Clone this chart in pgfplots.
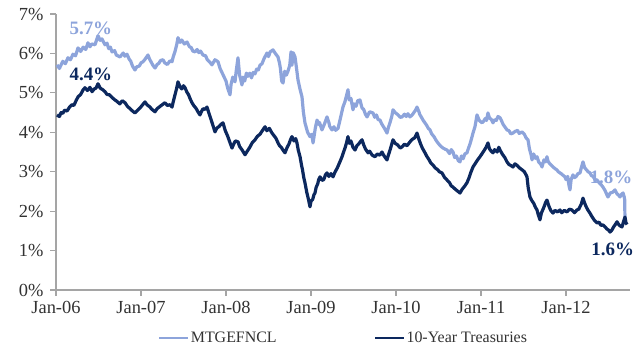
\documentclass[border=0pt]{standalone}
\usepackage{pgfplots}
\pgfplotsset{compat=1.18}
\usepackage{fontspec}
\setmainfont{Liberation Serif}

\definecolor{mbsblue}{RGB}{141,164,219}
\definecolor{tsynavy}{RGB}{12,40,94}
\definecolor{axisgrey}{RGB}{165,165,165}
\definecolor{labelgrey}{RGB}{50,50,50}

\begin{document}
\begin{tikzpicture}
\useasboundingbox (-56bp,-61bp) rectangle (580bp,290bp);
\begin{axis}[
  scale only axis,
  width=574bp, height=276bp,
  xmin=2006, xmax=2012.753,
  ymin=0, ymax=7,
  axis x line=bottom, axis y line=left,
  axis line style={-, draw=axisgrey, line width=1.3bp},
  xtick={2006,2007,2008,2009,2010,2011,2012},
  xticklabels={Jan-06,Jan-07,Jan-08,Jan-09,Jan-10,Jan-11,Jan-12},
  ytick={0,1,2,3,4,5,6,7},
  yticklabel={\pgfmathprintnumber{\tick}\%},
  /pgf/number format/assume math mode=true,
  tick style={draw=axisgrey, line width=1.2bp},
  tick align=outside,
  major tick length=6bp,
  ticklabel style={font=\fontsize{18.5}{20}\selectfont, text=labelgrey},
  xticklabel style={yshift=-2bp},
  yticklabel style={xshift=-3bp},
  legend columns=2,
  legend style={draw=none, fill=none, at={(0.5,-0.174)}, anchor=center,
    font=\fontsize{16}{17}\selectfont, text=labelgrey,
    inner sep=0pt, nodes={inner sep=1pt},
    /tikz/column 2/.style={column sep=96bp}},
  legend image code/.code={\draw[line width=2.8bp] (0bp,0bp) -- (29bp,0bp);},
  clip=false,
]
% 30-year agency MBS current coupon yield
\addplot[mbsblue, line width=3.2bp, line join=round] coordinates {
(2006.012,5.71) (2006.04,5.62) (2006.08,5.80) (2006.11,5.74) (2006.141,5.89)
(2006.17,5.84) (2006.20,5.98) (2006.23,5.94) (2006.259,6.14) (2006.29,6.05)
(2006.32,6.16) (2006.35,6.10) (2006.376,6.27) (2006.40,6.17) (2006.42,6.24)
(2006.459,6.22) (2006.494,6.45) (2006.52,6.33) (2006.54,6.37) (2006.576,6.22)
(2006.60,6.26) (2006.62,6.12) (2006.64,6.16) (2006.659,6.04) (2006.69,6.07)
(2006.71,5.96) (2006.753,5.91) (2006.79,6.01) (2006.81,5.93) (2006.835,5.98)
(2006.86,5.86) (2006.88,5.80) (2006.90,5.68) (2006.929,5.58) (2006.95,5.66)
(2006.98,5.68) (2007.00,5.76) (2007.024,5.79) (2007.05,5.86) (2007.082,5.96)
(2007.10,5.86) (2007.12,5.78) (2007.14,5.70) (2007.165,5.63) (2007.19,5.72)
(2007.21,5.75) (2007.23,5.82) (2007.259,5.84) (2007.28,5.76) (2007.31,5.72)
(2007.34,5.81) (2007.365,5.79) (2007.38,5.92) (2007.40,6.05) (2007.42,6.22)
(2007.435,6.40) (2007.46,6.28) (2007.48,6.34) (2007.51,6.24) (2007.541,6.29)
(2007.57,6.17) (2007.59,6.15) (2007.61,6.06) (2007.635,6.04) (2007.66,6.10)
(2007.68,6.02) (2007.70,6.06) (2007.729,5.96) (2007.76,5.94) (2007.78,5.84)
(2007.81,5.78) (2007.835,5.71) (2007.87,5.84) (2007.906,5.79) (2007.93,5.62)
(2007.965,5.46) (2008.00,5.30) (2008.02,5.12) (2008.047,4.95) (2008.06,5.22)
(2008.08,5.40) (2008.106,5.28) (2008.12,5.55) (2008.141,5.89) (2008.16,5.45)
(2008.188,5.20) (2008.20,5.40) (2008.22,5.30) (2008.24,5.50) (2008.259,5.42)
(2008.28,5.50) (2008.30,5.38) (2008.32,5.52) (2008.341,5.48) (2008.36,5.60)
(2008.38,5.58) (2008.40,5.70) (2008.424,5.74) (2008.45,5.88) (2008.482,6.01)
(2008.50,5.92) (2008.52,6.04) (2008.553,6.09) (2008.58,6.00) (2008.612,5.91)
(2008.63,5.75) (2008.64,5.62) (2008.655,5.30) (2008.671,5.25) (2008.69,5.55)
(2008.71,5.45) (2008.729,5.55) (2008.75,5.70) (2008.765,6.04) (2008.776,5.70)
(2008.79,6.02) (2008.812,5.91) (2008.83,5.62) (2008.847,5.33) (2008.87,5.10)
(2008.894,4.90) (2008.91,4.52) (2008.929,4.24) (2008.96,4.00) (2008.988,3.89)
(2009.01,3.95) (2009.024,3.73) (2009.04,3.95) (2009.05,4.10) (2009.071,4.31)
(2009.09,4.20) (2009.10,4.25) (2009.129,4.06) (2009.16,4.22) (2009.188,4.39)
(2009.21,4.25) (2009.22,4.15) (2009.247,4.06) (2009.27,4.14) (2009.29,4.05)
(2009.318,4.10) (2009.34,4.30) (2009.376,4.64) (2009.40,4.78) (2009.42,4.95)
(2009.435,5.08) (2009.45,4.82) (2009.47,4.86) (2009.494,4.57) (2009.51,4.72)
(2009.53,4.66) (2009.55,4.80) (2009.576,4.82) (2009.60,4.62) (2009.62,4.58)
(2009.64,4.46) (2009.659,4.39) (2009.69,4.52) (2009.729,4.49) (2009.75,4.38)
(2009.77,4.44) (2009.79,4.32) (2009.812,4.31) (2009.83,4.22) (2009.85,4.15)
(2009.87,4.08) (2009.894,3.98) (2009.91,4.12) (2009.93,4.25) (2009.95,4.40)
(2009.965,4.57) (2009.99,4.50) (2010.02,4.45) (2010.05,4.38) (2010.071,4.39)
(2010.10,4.46) (2010.12,4.40) (2010.14,4.47) (2010.165,4.39) (2010.19,4.44)
(2010.21,4.50) (2010.23,4.56) (2010.247,4.64) (2010.27,4.52) (2010.28,4.45)
(2010.30,4.38) (2010.318,4.31) (2010.34,4.24) (2010.36,4.18) (2010.38,4.10)
(2010.400,4.06) (2010.42,3.96) (2010.45,3.88) (2010.47,3.80) (2010.494,3.73)
(2010.52,3.66) (2010.553,3.60) (2010.58,3.57) (2010.600,3.55) (2010.63,3.46)
(2010.65,3.56) (2010.671,3.50) (2010.69,3.36) (2010.71,3.40) (2010.733,3.28)
(2010.753,3.25) (2010.77,3.40) (2010.79,3.33) (2010.81,3.45) (2010.835,3.48)
(2010.85,3.58) (2010.87,3.70) (2010.89,3.85) (2010.906,3.98) (2010.93,4.15)
(2010.953,4.44) (2010.98,4.30) (2011.012,4.24) (2011.03,4.28) (2011.05,4.35)
(2011.065,4.30) (2011.082,4.49) (2011.10,4.36) (2011.12,4.33) (2011.141,4.24)
(2011.16,4.32) (2011.18,4.30) (2011.20,4.40) (2011.224,4.37) (2011.24,4.30)
(2011.26,4.20) (2011.28,4.14) (2011.306,4.06) (2011.33,4.04) (2011.35,3.96)
(2011.376,3.98) (2011.40,4.02) (2011.43,4.05) (2011.45,3.97) (2011.482,4.01)
(2011.51,3.95) (2011.53,3.86) (2011.553,3.81) (2011.57,3.58) (2011.59,3.42)
(2011.600,3.30) (2011.62,3.45) (2011.64,3.34) (2011.659,3.38) (2011.68,3.24)
(2011.70,3.20) (2011.718,3.12) (2011.74,3.30) (2011.76,3.25) (2011.776,3.38)
(2011.79,3.26) (2011.81,3.20) (2011.83,3.16) (2011.847,3.12) (2011.87,3.08)
(2011.89,3.05) (2011.91,3.00) (2011.929,2.97) (2011.95,2.94) (2011.97,2.90)
(2011.988,2.87) (2012.00,2.80) (2012.02,2.88) (2012.035,2.65) (2012.047,2.54)
(2012.06,2.80) (2012.082,2.92) (2012.10,2.85) (2012.12,2.88) (2012.14,2.95)
(2012.165,2.97) (2012.18,3.10) (2012.200,3.25) (2012.22,3.10) (2012.24,3.05)
(2012.26,3.00) (2012.282,2.97) (2012.30,2.90) (2012.32,2.88) (2012.34,2.80)
(2012.365,2.79) (2012.39,2.72) (2012.41,2.68) (2012.435,2.61) (2012.46,2.52)
(2012.48,2.42) (2012.494,2.36) (2012.52,2.46) (2012.55,2.48) (2012.576,2.54)
(2012.60,2.44) (2012.62,2.40) (2012.635,2.36) (2012.65,2.42) (2012.671,2.46)
(2012.685,2.36) (2012.690,2.30) (2012.694,1.80)
};
\addlegendentry{MTGEFNCL}
% 10-year Treasury yield
\addplot[tsynavy, line width=3.2bp, line join=round] coordinates {
(2006.012,4.44) (2006.04,4.40) (2006.06,4.50) (2006.08,4.48) (2006.10,4.56)
(2006.13,4.54) (2006.16,4.64) (2006.188,4.70) (2006.21,4.68) (2006.24,4.82)
(2006.26,4.90) (2006.29,4.96) (2006.32,5.08) (2006.341,5.13) (2006.37,5.06)
(2006.40,5.14) (2006.424,5.03) (2006.45,5.10) (2006.47,5.12) (2006.494,5.23)
(2006.52,5.12) (2006.55,5.08) (2006.576,5.03) (2006.60,4.96) (2006.63,4.95)
(2006.66,4.88) (2006.694,4.82) (2006.72,4.78) (2006.75,4.72) (2006.78,4.80)
(2006.812,4.75) (2006.84,4.66) (2006.87,4.60) (2006.90,4.54) (2006.929,4.49)
(2006.96,4.56) (2006.99,4.62) (2007.02,4.70) (2007.047,4.77) (2007.07,4.70)
(2007.10,4.65) (2007.13,4.58) (2007.165,4.52) (2007.19,4.60) (2007.22,4.65)
(2007.25,4.70) (2007.282,4.75) (2007.31,4.68) (2007.34,4.70) (2007.365,4.64)
(2007.38,4.78) (2007.40,4.95) (2007.42,5.12) (2007.435,5.28) (2007.46,5.15)
(2007.48,5.10) (2007.50,5.18) (2007.518,5.13) (2007.54,5.02) (2007.56,4.95)
(2007.58,4.84) (2007.600,4.75) (2007.62,4.68) (2007.65,4.60) (2007.67,4.52)
(2007.694,4.44) (2007.71,4.52) (2007.73,4.60) (2007.75,4.58) (2007.776,4.64)
(2007.80,4.48) (2007.82,4.35) (2007.85,4.15) (2007.871,4.01) (2007.89,4.10)
(2007.92,4.15) (2007.94,4.20) (2007.965,4.24) (2007.99,4.05) (2008.02,3.90)
(2008.05,3.72) (2008.071,3.60) (2008.09,3.70) (2008.11,3.78) (2008.141,3.76)
(2008.16,3.64) (2008.19,3.55) (2008.224,3.43) (2008.25,3.52) (2008.28,3.62)
(2008.31,3.74) (2008.341,3.81) (2008.37,3.90) (2008.40,3.95) (2008.43,4.05)
(2008.459,4.14) (2008.48,4.04) (2008.51,4.10) (2008.541,3.98) (2008.57,3.90)
(2008.59,3.84) (2008.612,3.73) (2008.63,3.66) (2008.65,3.62) (2008.67,3.55)
(2008.694,3.48) (2008.72,3.62) (2008.74,3.70) (2008.76,3.82) (2008.776,3.89)
(2008.80,3.78) (2008.82,3.84) (2008.835,3.73) (2008.85,3.55) (2008.871,3.38)
(2008.89,3.15) (2008.90,3.05) (2008.915,2.85) (2008.929,2.72) (2008.95,2.48)
(2008.97,2.30) (2008.988,2.11) (2009.00,2.25) (2009.02,2.30) (2009.035,2.42)
(2009.047,2.46) (2009.06,2.60) (2009.08,2.70) (2009.09,2.80) (2009.106,2.87)
(2009.13,2.78) (2009.15,2.80) (2009.17,2.92) (2009.188,2.97) (2009.21,2.88)
(2009.235,2.95) (2009.259,2.87) (2009.28,2.98) (2009.31,3.10) (2009.34,3.25)
(2009.365,3.38) (2009.38,3.48) (2009.40,3.60) (2009.42,3.75) (2009.435,3.89)
(2009.45,3.72) (2009.47,3.78) (2009.494,3.62) (2009.518,3.55) (2009.54,3.66)
(2009.56,3.70) (2009.58,3.76) (2009.600,3.81) (2009.62,3.68) (2009.64,3.58)
(2009.671,3.48) (2009.69,3.52) (2009.72,3.42) (2009.753,3.38) (2009.78,3.45)
(2009.81,3.42) (2009.835,3.50) (2009.86,3.40) (2009.894,3.30) (2009.91,3.42)
(2009.93,3.55) (2009.95,3.70) (2009.965,3.81) (2009.99,3.72) (2010.02,3.68)
(2010.05,3.60) (2010.071,3.63) (2010.10,3.70) (2010.13,3.66) (2010.165,3.76)
(2010.19,3.82) (2010.22,3.86) (2010.247,3.98) (2010.27,3.82) (2010.29,3.70)
(2010.31,3.60) (2010.341,3.48) (2010.36,3.40) (2010.39,3.30) (2010.41,3.22)
(2010.435,3.17) (2010.46,3.10) (2010.49,3.05) (2010.51,3.00) (2010.541,2.97)
(2010.57,2.86) (2010.600,2.79) (2010.63,2.72) (2010.65,2.64) (2010.671,2.61)
(2010.70,2.55) (2010.73,2.50) (2010.753,2.46) (2010.78,2.56) (2010.81,2.64)
(2010.835,2.72) (2010.86,2.85) (2010.88,2.98) (2010.906,3.12) (2010.93,3.20)
(2010.96,3.30) (2010.988,3.38) (2011.01,3.45) (2011.04,3.55) (2011.06,3.62)
(2011.082,3.73) (2011.10,3.58) (2011.12,3.52) (2011.141,3.48) (2011.16,3.56)
(2011.19,3.50) (2011.21,3.62) (2011.224,3.55) (2011.25,3.45) (2011.28,3.36)
(2011.306,3.25) (2011.33,3.18) (2011.35,3.16) (2011.376,3.12) (2011.40,3.20)
(2011.43,3.15) (2011.45,3.10) (2011.482,3.05) (2011.51,3.00) (2011.53,2.92)
(2011.541,2.87) (2011.555,2.60) (2011.576,2.36) (2011.60,2.26) (2011.62,2.20)
(2011.64,2.10) (2011.659,2.03) (2011.675,1.90) (2011.694,1.78) (2011.71,1.95)
(2011.74,2.10) (2011.76,2.22) (2011.776,2.28) (2011.80,2.12) (2011.82,2.02)
(2011.847,1.95) (2011.87,2.02) (2011.90,1.98) (2011.929,2.03) (2011.95,1.96)
(2011.98,2.02) (2012.012,1.98) (2012.04,2.05) (2012.07,2.03) (2012.10,1.96)
(2012.129,2.03) (2012.15,2.05) (2012.18,2.18) (2012.200,2.33) (2012.22,2.20)
(2012.24,2.10) (2012.26,2.02) (2012.282,1.95) (2012.30,1.88) (2012.33,1.78)
(2012.365,1.70) (2012.39,1.72) (2012.41,1.64) (2012.435,1.65) (2012.46,1.60)
(2012.48,1.55) (2012.50,1.52) (2012.518,1.47) (2012.54,1.52) (2012.56,1.60)
(2012.58,1.66) (2012.600,1.73) (2012.62,1.66) (2012.64,1.62) (2012.659,1.60)
(2012.675,1.72) (2012.694,1.85) (2012.706,1.70) (2012.718,1.66)
};
\addlegendentry{10-Year Treasuries}

\node[text=mbsblue, font=\fontsize{19}{20}\selectfont\bfseries] at (axis cs:2006.41,6.64) {5.7\%};
\node[text=tsynavy, font=\fontsize{19}{20}\selectfont\bfseries] at (axis cs:2006.41,5.48) {4.4\%};
\node[text=mbsblue, font=\fontsize{19}{20}\selectfont\bfseries] at (axis cs:2012.53,2.87) {1.8\%};
\node[text=tsynavy, font=\fontsize{19}{20}\selectfont\bfseries] at (axis cs:2012.55,1.04) {1.6\%};
\end{axis}
\end{tikzpicture}
\end{document}
